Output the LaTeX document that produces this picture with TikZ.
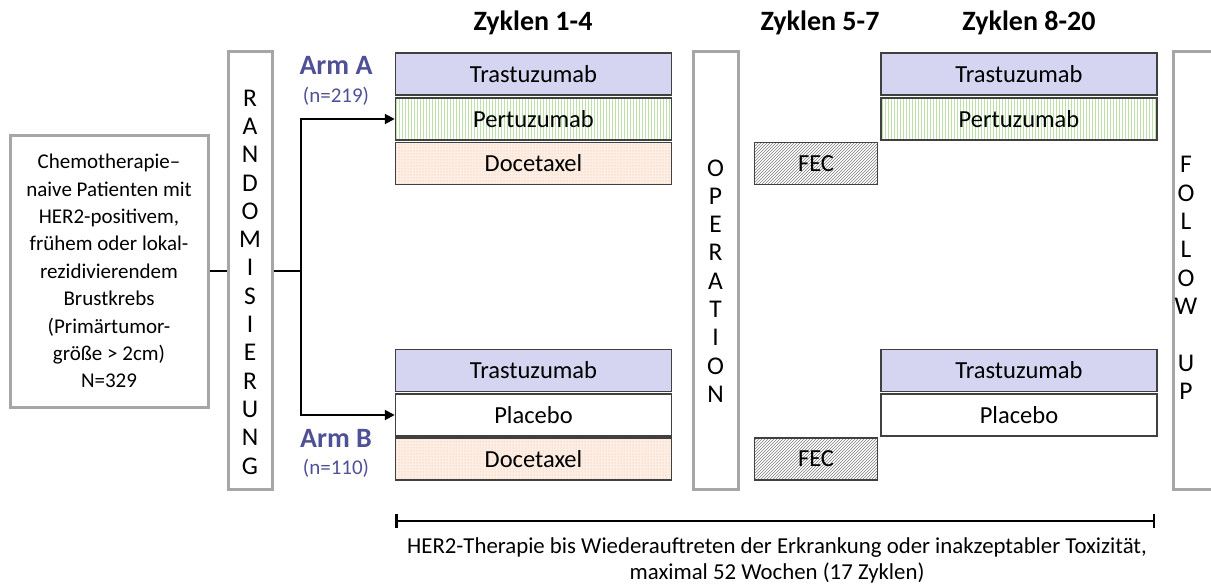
\documentclass[tikz,border=0pt]{standalone}
\usepackage{fontspec}
\setmainfont{Carlito}
\usetikzlibrary{arrows.meta,patterns,positioning}

\definecolor{trastufill}{RGB}{213,213,242}
\definecolor{armblue}{RGB}{80,80,150}
\definecolor{framegray}{RGB}{166,166,166}
\definecolor{edgegray}{RGB}{64,64,64}
\definecolor{pertgreen}{RGB}{190,225,170}
\definecolor{doceorange}{RGB}{244,177,131}

\tikzset{
  drugbox/.style={draw=edgegray, line width=1.5pt, minimum width=276pt, minimum height=42pt,
    inner sep=0pt, font=\fontsize{24.5}{29}\selectfont},
  trastubox/.style={drugbox, fill=trastufill},
  pertubox/.style={drugbox, preaction={fill=white}, pattern=vertical lines, pattern color=pertgreen},
  docebox/.style={drugbox, preaction={fill=doceorange!20}, pattern=dots, pattern color=doceorange},
  placebobox/.style={drugbox, fill=white},
  fecbox/.style={drugbox, minimum width=123pt, preaction={fill=white}, pattern=north east lines, pattern color=gray},
  framebox/.style={draw=framegray, line width=3pt, inner sep=0pt, align=center},
  stackfont/.style={font=\fontsize{25.5}{28.3}\selectfont, align=center},
  headline/.style={font=\fontsize{28}{32}\bfseries\selectfont},
  armlabel/.style={font=\fontsize{28}{32}\bfseries\selectfont, text=armblue},
  armcount/.style={font=\fontsize{21}{25}\selectfont, text=armblue},
  conn/.style={line width=2pt},
  arrow/.style={conn, -{Triangle[length=10pt,width=10pt]}}
}

\begin{document}
\begin{tikzpicture}[x=1pt,y=-1pt]
  \useasboundingbox (0,0) rectangle (1211,586);

  % patients and randomisation
  \node[framebox, minimum width=198pt, minimum height=272pt, font=\fontsize{21}{27.4}\selectfont] (patient) at (109,271)
    {Chemotherapie--\\naive Patienten mit\\HER2-positivem,\\frühem oder lokal-\\rezidivierendem\\Brustkrebs\\(Primärtumor-\\größe > 2cm)\\N=329};
  \node[framebox, minimum width=44pt, minimum height=437pt] (rand) at (250,270.5) {};
  \node[stackfont] (randtxt) at (250,282) {R\\A\\N\\D\\O\\M\\I\\S\\I\\E\\R\\U\\N\\G};

  % headers
  \node[headline] (head1) at (533,23) {Zyklen 1-4};
  \node[headline] (head2) at (820,23) {Zyklen 5-7};
  \node[headline] (head3) at (1029,23) {Zyklen 8-20};

  % arm A
  \node[armlabel] (armA) at (336,65) {Arm A};
  \node[armcount] (nA) at (336,96) {(n=219)};
  \node[trastubox] (trastA) at (533.5,74) {Trastuzumab};
  \node[pertubox] (pertA) at (533.5,119) {Pertuzumab};
  \node[docebox] (doceA) at (533.5,163.5) {Docetaxel};
  \node[fecbox] (fecA) at (816,163.5) {FEC};
  \node[trastubox] (trastA2) at (1019,74) {Trastuzumab};
  \node[pertubox] (pertA2) at (1019,119) {Pertuzumab};

  % arm B
  \node[armlabel] (armB) at (336,438) {Arm B};
  \node[armcount] (nB) at (336,468) {(n=110)};
  \node[trastubox] (trastB) at (533.5,370.5) {Trastuzumab};
  \node[placebobox] (placB) at (533.5,415) {Placebo};
  \node[docebox] (doceB) at (533.5,459) {Docetaxel};
  \node[fecbox] (fecB) at (816,459) {FEC};
  \node[trastubox] (trastB2) at (1019,370.5) {Trastuzumab};
  \node[placebobox] (placB2) at (1019,415) {Placebo};

  % operation and follow up
  \node[framebox, minimum width=45pt, minimum height=437pt] (op) at (715.5,270.5) {};
  \node[stackfont] (optxt) at (715.5,281) {O\\P\\E\\R\\A\\T\\I\\O\\N};
  \draw[framegray, line width=3pt] (1173,52) rectangle (1240,489);
  \node[stackfont] (follow) at (1186,278) {F\\O\\L\\L\\O\\W\\[28.3pt]U\\P};

  % connectors
  \coordinate (split) at (301,271);
  \draw[conn] (patient.east) -- (patient.east -| rand.west);
  \draw[conn] (rand.east |- split) -- (split);
  \draw[arrow] (split) |- (pertA.west);
  \draw[arrow] (split) |- (placB.west);

  % duration bar
  \coordinate (barL) at (395,521);
  \coordinate (barR) at (1155,521);
  \draw[line width=2.5pt, {Bar[width=14pt]}-{Bar[width=14pt]}] (barL) -- (barR);
  \node[font=\fontsize{22.8}{26}\selectfont, align=center] (duration) at (777,560)
    {HER2-Therapie bis Wiederauftreten der Erkrankung oder inakzeptabler Toxizität,\\maximal 52 Wochen (17 Zyklen)};
\end{tikzpicture}
\end{document}
